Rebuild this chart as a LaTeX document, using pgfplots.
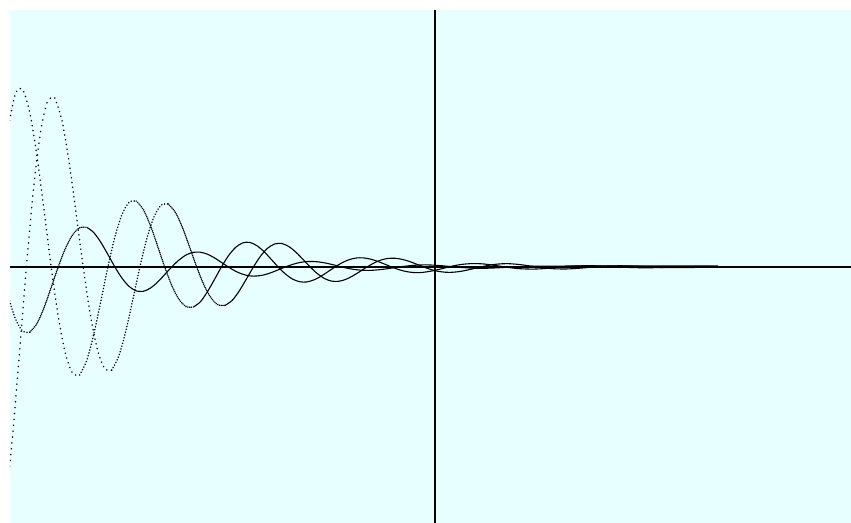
\documentclass[border=0pt]{standalone}
\usepackage{pgfplots}
\pgfplotsset{compat=1.18}
\definecolor{bgcyan}{RGB}{232,255,255}
\begin{document}
\begin{tikzpicture}
\useasboundingbox (-5pt,0pt) rectangle (420.5pt,261.5pt);
\begin{axis}[
  at={(0pt,0pt)}, anchor=south west,
  scale only axis, width=420.5pt, height=256.5pt,
  xmin=-425, xmax=416, ymin=-256, ymax=257,
  axis lines=middle, axis line style={-, line width=0.8pt, black},
  xtick=\empty, ytick=\empty,
  axis background/.style={fill=bgcyan},
  clip=true,
  every axis plot/.append style={black, line width=0.55pt, smooth, mark=none},
  dotA/.style={black, line width=0.8pt, line cap=round, dash pattern=on 0.05pt off #1},
  sol/.style={black, solid, line width=0.55pt},
]
% curve A
\addplot[dotA=2.45pt] coordinates {(-426.4,141.6)(-419.3,174.0)(-412.2,177)(-405.1,153.7)(-398.0,110.6)(-390.9,56.3)(-383.8,0)(-376.7,-49.8)(-369.6,-86.4)(-362.5,-106.2)(-355.4,-108.0)};
\addplot[dotA=1.45pt] coordinates {(-355.4,-108.0)(-348.4,-93.8)(-341.3,-67.5)(-334.2,-34.4)(-327.1,0)(-320.0,30.4)(-312.9,52.7)(-305.8,64.8)(-298.7,65.9)};
\addplot[dotA=0.9pt] coordinates {(-298.7,65.9)(-291.6,57.3)(-284.5,41.2)(-277.4,21.0)(-270.3,0)(-263.2,-18.5)(-256.1,-32.2)(-249.0,-39.5)(-241.9,-40.2)};
\addplot[sol] coordinates {(-241.9,-40.2)(-234.8,-35.0)(-227.8,-25.1)(-220.7,-12.8)(-213.6,0)(-206.5,11.3)(-199.4,19.6)(-192.3,24.1)(-185.2,24.6)(-178.1,21.3)(-171.0,15.4)(-163.9,7.8)(-156.8,0)(-149.7,-6.9)(-142.6,-12.0)(-135.5,-14.7)(-128.4,-15.0)(-121.3,-13.0)(-114.2,-9.4)(-107.2,-4.8)(-100.1,0)(-93.0,4.2)(-85.9,7.3)(-78.8,9.0)(-71.7,9.1)(-64.6,7.9)(-57.5,5.7)(-50.4,2.9)(-43.3,0)(-36.2,-2.6)(-29.1,-4.5)(-22.0,-5.5)(-14.9,-5.6)(-7.8,-4.8)(-0.7,-3.5)(6.4,-1.8)(13.5,0)(20.6,1.6)(27.7,2.7)(34.8,3.3)(41.9,3.4)(49.0,3.0)(56.1,2.1)(63.2,1.1)(70.3,0)(77.4,-1.0)(84.5,-1.7)(91.6,-2.0)(98.6,-2.1)(105.7,-1.8)(112.8,-1.3)(119.9,-0.7)(127.0,0)(141.2,1.0)(155.3,1.3)(169.5,0.8)(183.7,0)(197.9,-0.6)(212.1,-0.8)(226.3,-0.5)(240.4,0)(254.6,0.4)(268.8,0.5)(283,0.3)};
% curve B
\addplot[dotA=2.9pt] coordinates {(-429.9,-240.5)(-422.8,-173.1)(-415.7,-88.0)(-408.6,0)(-401.5,77.8)(-394.4,135.2)(-387.3,166.1)(-380.2,169)};
\addplot[dotA=2.35pt] coordinates {(-380.2,169)(-373.1,146.8)(-366.0,105.6)(-358.9,53.7)(-351.8,0)(-344.7,-47.5)(-337.6,-82.5)(-330.5,-101.4)(-323.4,-103.1)};
\addplot[dotA=1.4pt] coordinates {(-323.4,-103.1)(-316.4,-89.6)(-309.3,-64.5)(-302.2,-32.8)(-295.1,0)(-288.0,29.0)(-280.9,50.4)(-273.8,61.9)(-266.7,63.0)};
\addplot[dotA=0.85pt] coordinates {(-266.7,63.0)(-259.6,54.7)(-252.5,39.3)(-245.4,20.0)(-238.3,0)(-231.2,-17.7)(-224.1,-30.7)(-217.0,-37.8)(-209.9,-38.4)};
\addplot[sol] coordinates {(-209.9,-38.4)(-202.8,-33.4)(-195.8,-24.0)(-188.7,-12.2)(-181.6,0)(-174.5,10.8)(-167.4,18.8)(-160.3,23.0)(-153.2,23.5)(-146.1,20.4)(-139.0,14.7)(-131.9,7.5)(-124.8,0)(-117.7,-6.6)(-110.6,-11.5)(-103.5,-14.1)(-96.4,-14.3)(-89.3,-12.4)(-82.2,-8.9)(-75.2,-4.6)(-68.1,0)(-61.0,4.0)(-53.9,7.0)(-46.8,8.6)(-39.7,8.7)(-32.6,7.6)(-25.5,5.5)(-18.4,2.8)(-11.3,0)(-4.2,-2.5)(2.9,-4.3)(10.0,-5.2)(17.1,-5.3)(24.2,-4.6)(31.3,-3.3)(38.4,-1.7)(45.5,0)(52.6,1.5)(59.7,2.6)(66.8,3.2)(73.9,3.3)(81.0,2.8)(88.1,2.0)(95.2,1.0)(102.3,0)(116.5,-1.6)(130.7,-2.0)(144.8,-1.2)(159.0,0)(173.2,1.0)(187.4,1.2)(201.6,0.8)(215.8,0)(229.9,-0.6)(244.1,-0.7)(258.3,-0.5)(272.5,0)(283,0.2)};
% curve C
\addplot[dotA=1.4pt] coordinates {(-433.6,0)(-426.5,-30.0)(-419.4,-52.2)(-412.3,-64.1)(-405.2,-65.2)};
\addplot[dotA=0.85pt] coordinates {(-405.2,-65.2)(-398.1,-56.6)(-391.0,-40.8)(-383.9,-20.7)(-376.8,0)(-369.7,18.3)(-362.6,31.8)(-355.5,39.1)(-348.4,39.8)};
\addplot[sol] coordinates {(-348.4,39.8)(-341.4,34.6)(-334.3,24.9)(-327.2,12.7)(-320.1,0)(-313.0,-11.2)(-305.9,-19.4)(-298.8,-23.9)(-291.7,-24.3)(-284.6,-21.1)(-277.5,-15.2)(-270.4,-7.7)(-263.3,0)(-256.2,6.8)(-249.1,11.9)(-242.0,14.6)(-234.9,14.8)(-227.8,12.9)(-220.8,9.3)(-213.7,4.7)(-206.6,0)(-199.5,-4.2)(-192.4,-7.2)(-185.3,-8.9)(-178.2,-9.0)(-171.1,-7.9)(-164.0,-5.7)(-156.9,-2.9)(-149.8,0)(-142.7,2.5)(-135.6,4.4)(-128.5,5.4)(-121.4,5.5)(-114.3,4.8)(-107.2,3.5)(-100.2,1.8)(-93.1,0)(-86.0,-1.6)(-78.9,-2.7)(-71.8,-3.3)(-64.7,-3.4)(-57.6,-2.9)(-50.5,-2.1)(-43.4,-1.1)(-36.3,0)(-22.1,1.6)(-7.9,2.1)(6.3,1.3)(20.5,0)(34.7,-1.0)(48.9,-1.3)(63.0,-0.8)(77.2,0)(91.4,0.6)(105.6,0.8)(119.8,0.9)(150.0,1.0)(200.0,1.0)(250.0,1.0)(283,1.0)};
\end{axis}
\end{tikzpicture}
\end{document}
